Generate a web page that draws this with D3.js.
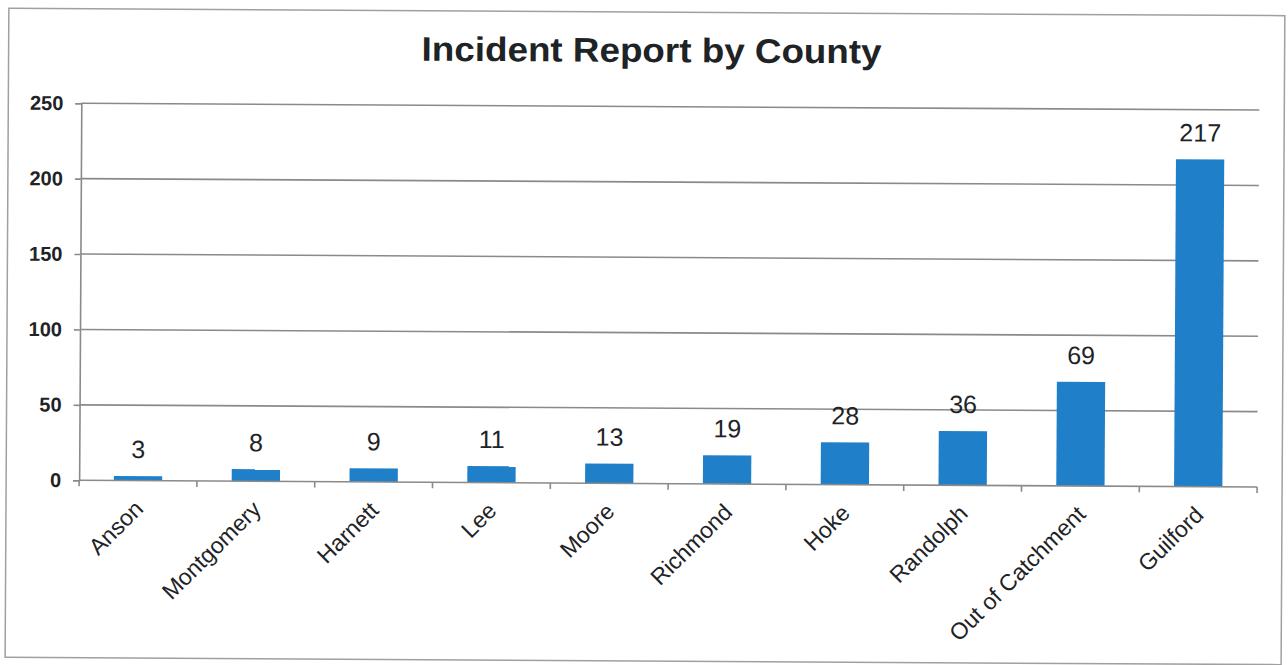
<!DOCTYPE html>
<html><head><meta charset="utf-8">
<script src="https://cdn.jsdelivr.net/npm/d3@7"></script>
<style>body{margin:0;background:#fff}svg{display:block}</style>
</head><body>
<svg id="c" width="1288" height="665"></svg>
<script>
const categories = ["Anson","Montgomery","Harnett","Lee","Moore","Richmond","Hoke","Randolph","Out of Catchment","Guilford"];
const values = [3,8,9,11,13,19,28,36,69,217];
const yTicks = [0,50,100,150,200,250];
const title = "Incident Report by County";

(function(){
const svg = d3.select("#c");
svg.append("rect").attr("width",1288).attr("height",665).attr("fill","#fff");
const g = svg.append("g").attr("transform","rotate(0.33,644,332)");
const font = "'Liberation Sans', Arial, sans-serif";

g.append("rect").attr("x",7).attr("y",12).attr("width",1276).attr("height",649)
  .attr("fill","none").attr("stroke","#a0a0a0").attr("stroke-width",1.5);

const pL = 80, pR = 1258, pT = 106.5, pB = 483.5;
const x = d3.scaleBand().domain(categories).range([pL,pR]).paddingInner(0.59).paddingOuter(0.295);
const xb = d3.scaleBand().domain(categories).range([pL,pR]);
const y = d3.scaleLinear().domain([0,250]).range([pB,pT]);

g.append("g").selectAll("line").data(yTicks.filter(d=>d>0)).join("line")
  .attr("x1",pL).attr("x2",pR).attr("y1",d=>y(d)).attr("y2",d=>y(d))
  .attr("stroke","#8a8a8a").attr("stroke-width",1.6);

const ya = g.append("g").attr("transform",`translate(${pL},0)`)
  .call(d3.axisLeft(y).tickValues(yTicks).tickSize(6).tickPadding(12));
ya.select(".domain").attr("stroke","#8a8a8a").attr("stroke-width",1.6);
ya.selectAll(".tick line").attr("stroke","#8a8a8a").attr("stroke-width",1.6);
ya.selectAll("text").attr("font-family",font).attr("font-size",20).attr("font-weight","bold").attr("fill","#1e2326");

g.append("g").selectAll("rect").data(values).join("rect")
  .attr("x",(d,i)=>x(categories[i])).attr("width",x.bandwidth())
  .attr("y",d=>y(d)).attr("height",d=>pB-y(d)).attr("fill","#1f7fc9");

g.append("line").attr("x1",pL).attr("x2",pR).attr("y1",pB).attr("y2",pB)
  .attr("stroke","#8a8a8a").attr("stroke-width",1.6);
g.append("g").selectAll("line").data(categories.concat(["__end"])).join("line")
  .attr("x1",(d,i)=>pL+i*xb.step()).attr("x2",(d,i)=>pL+i*xb.step())
  .attr("y1",pB).attr("y2",pB+6).attr("stroke","#8a8a8a").attr("stroke-width",1.6);

g.append("g").selectAll("text").data(values).join("text")
  .attr("x",(d,i)=>x(categories[i])+x.bandwidth()/2).attr("y",d=>y(d)-18)
  .attr("text-anchor","middle").attr("font-family",font).attr("font-size",25)
  .attr("fill","#1e2326").text(d=>d);

g.append("g").selectAll("text").data(categories).join("text")
  .attr("transform",d=>`translate(${xb(d)+xb.bandwidth()/2+1},${pB+24}) rotate(-45)`)
  .attr("text-anchor","end").attr("dy","0.35em").attr("font-family",font).attr("font-size",23)
  .attr("fill","#1e2326").text(d=>d);

g.append("text").attr("x",650).attr("y",62).attr("text-anchor","middle")
  .attr("font-family",font).attr("font-size",34).attr("font-weight","bold")
  .attr("textLength",460).attr("lengthAdjust","spacingAndGlyphs")
  .attr("fill","#1e2326").text(title);
})();
</script>
</body></html>
